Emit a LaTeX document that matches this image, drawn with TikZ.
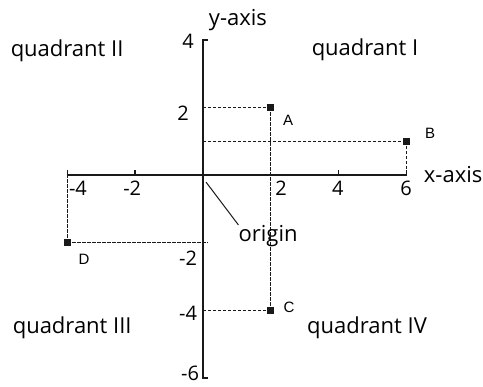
\documentclass[tikz,border=0pt]{standalone}
\usepackage{fontspec}
\setmainfont{Open Sans}
\newfontfamily\ptfont{Liberation Sans}
\usetikzlibrary{positioning}

\begin{document}
\begin{tikzpicture}[
  x=33.9pt,
  y=33.8pt,
  line join=miter,
  axisline/.style={draw=black!90,line width=1.7pt},
  guide/.style={draw=black!90,line width=1.25pt,dash pattern=on 3.2pt off 1.8pt},
  marker/.style={fill=black!90,minimum size=7pt,inner sep=0pt},
  ticklabel/.style={font=\fontsize{20}{20}\selectfont,inner sep=0pt},
  quadlabel/.style={font=\fontsize{22}{22}\selectfont,inner sep=0pt},
  ptlabel/.style={font=\ptfont\fontsize{15}{15}\selectfont,inner sep=0pt}
]
  \useasboundingbox (-5.99,-6.27) rectangle (8.26,5.18);

  % axes with their small end ticks
  \draw[axisline] (-4,0.15) -- (-4,0) -- (6,0) -- (6,0.15);
  \draw[axisline] (0.15,4) -- (0,4) -- (0,-6) -- (0.15,-6);
  \foreach \t in {-2,4} {
    \draw[axisline] (\t,0) -- (\t,0.15);
  }

  % plotted points
  \node[marker] (A) at (2,2) {};
  \node[marker] (B) at (6,1) {};
  \node[marker] (C) at (2,-4) {};
  \node[marker] (D) at (-4,-2) {};

  \coordinate (Ay) at (0,2);
  \coordinate (By) at (0,1);
  \coordinate (Bx) at (6,0);
  \coordinate (Cy) at (0,-4);
  \coordinate (Dx) at (-4,0);
  \coordinate (Dy) at (0.15,-2);

  % dashed guides to the axes
  \draw[guide] (A.center) -- (Ay);
  \draw[guide] (A.center) -- (C.center);
  \draw[guide] (B.center) -- (By);
  \draw[guide] (B.center) -- (Bx);
  \draw[guide] (C.center) -- (Cy);
  \draw[guide] (D.center) -- (Dx);
  \draw[guide] (D.center) -- (Dy);

  % point labels
  \node[ptlabel] (Alab) at (2.51,1.63) {A};
  \node[ptlabel] (Blab) at (6.70,1.24) {B};
  \node[ptlabel] (Clab) at (2.54,-3.90) {C};
  \node[ptlabel] (Dlab) at (-3.51,-2.49) {D};

  % tick numbers
  \foreach \name/\px/\py/\txt in {xm4/-3.69/-0.38/-4, xm2/-2.09/-0.38/-2,
      xp2/2.30/-0.38/2, xp4/3.98/-0.38/4, xp6/5.99/-0.38/6,
      yp4/-0.44/3.96/4, yp2/-0.59/1.83/2, ym2/-0.44/-2.46/-2,
      ym4/-0.44/-4.08/-4, ym6/-0.38/-5.88/-6} {
    \node[ticklabel] (\name) at (\px,\py) {\txt};
  }

  % axis names and quadrants
  \node[quadlabel] (yname) at (1.03,4.59) {y-axis};
  \node[quadlabel] (xname) at (7.38,0.02) {x-axis};
  \node[quadlabel] (q2) at (-4.01,3.67) {quadrant II};
  \node[quadlabel] (q1) at (4.78,3.70) {quadrant I};
  \node[quadlabel] (q3) at (-3.86,-4.53) {quadrant III};
  \node[quadlabel] (q4) at (4.84,-4.53) {quadrant IV};

  % origin pointer
  \coordinate (O) at (0.09,-0.21);
  \node[quadlabel] (origin) at (1.92,-1.80) {origin};
  \draw[black!90,line width=1pt] (O) -- (origin.north west);
\end{tikzpicture}
\end{document}
